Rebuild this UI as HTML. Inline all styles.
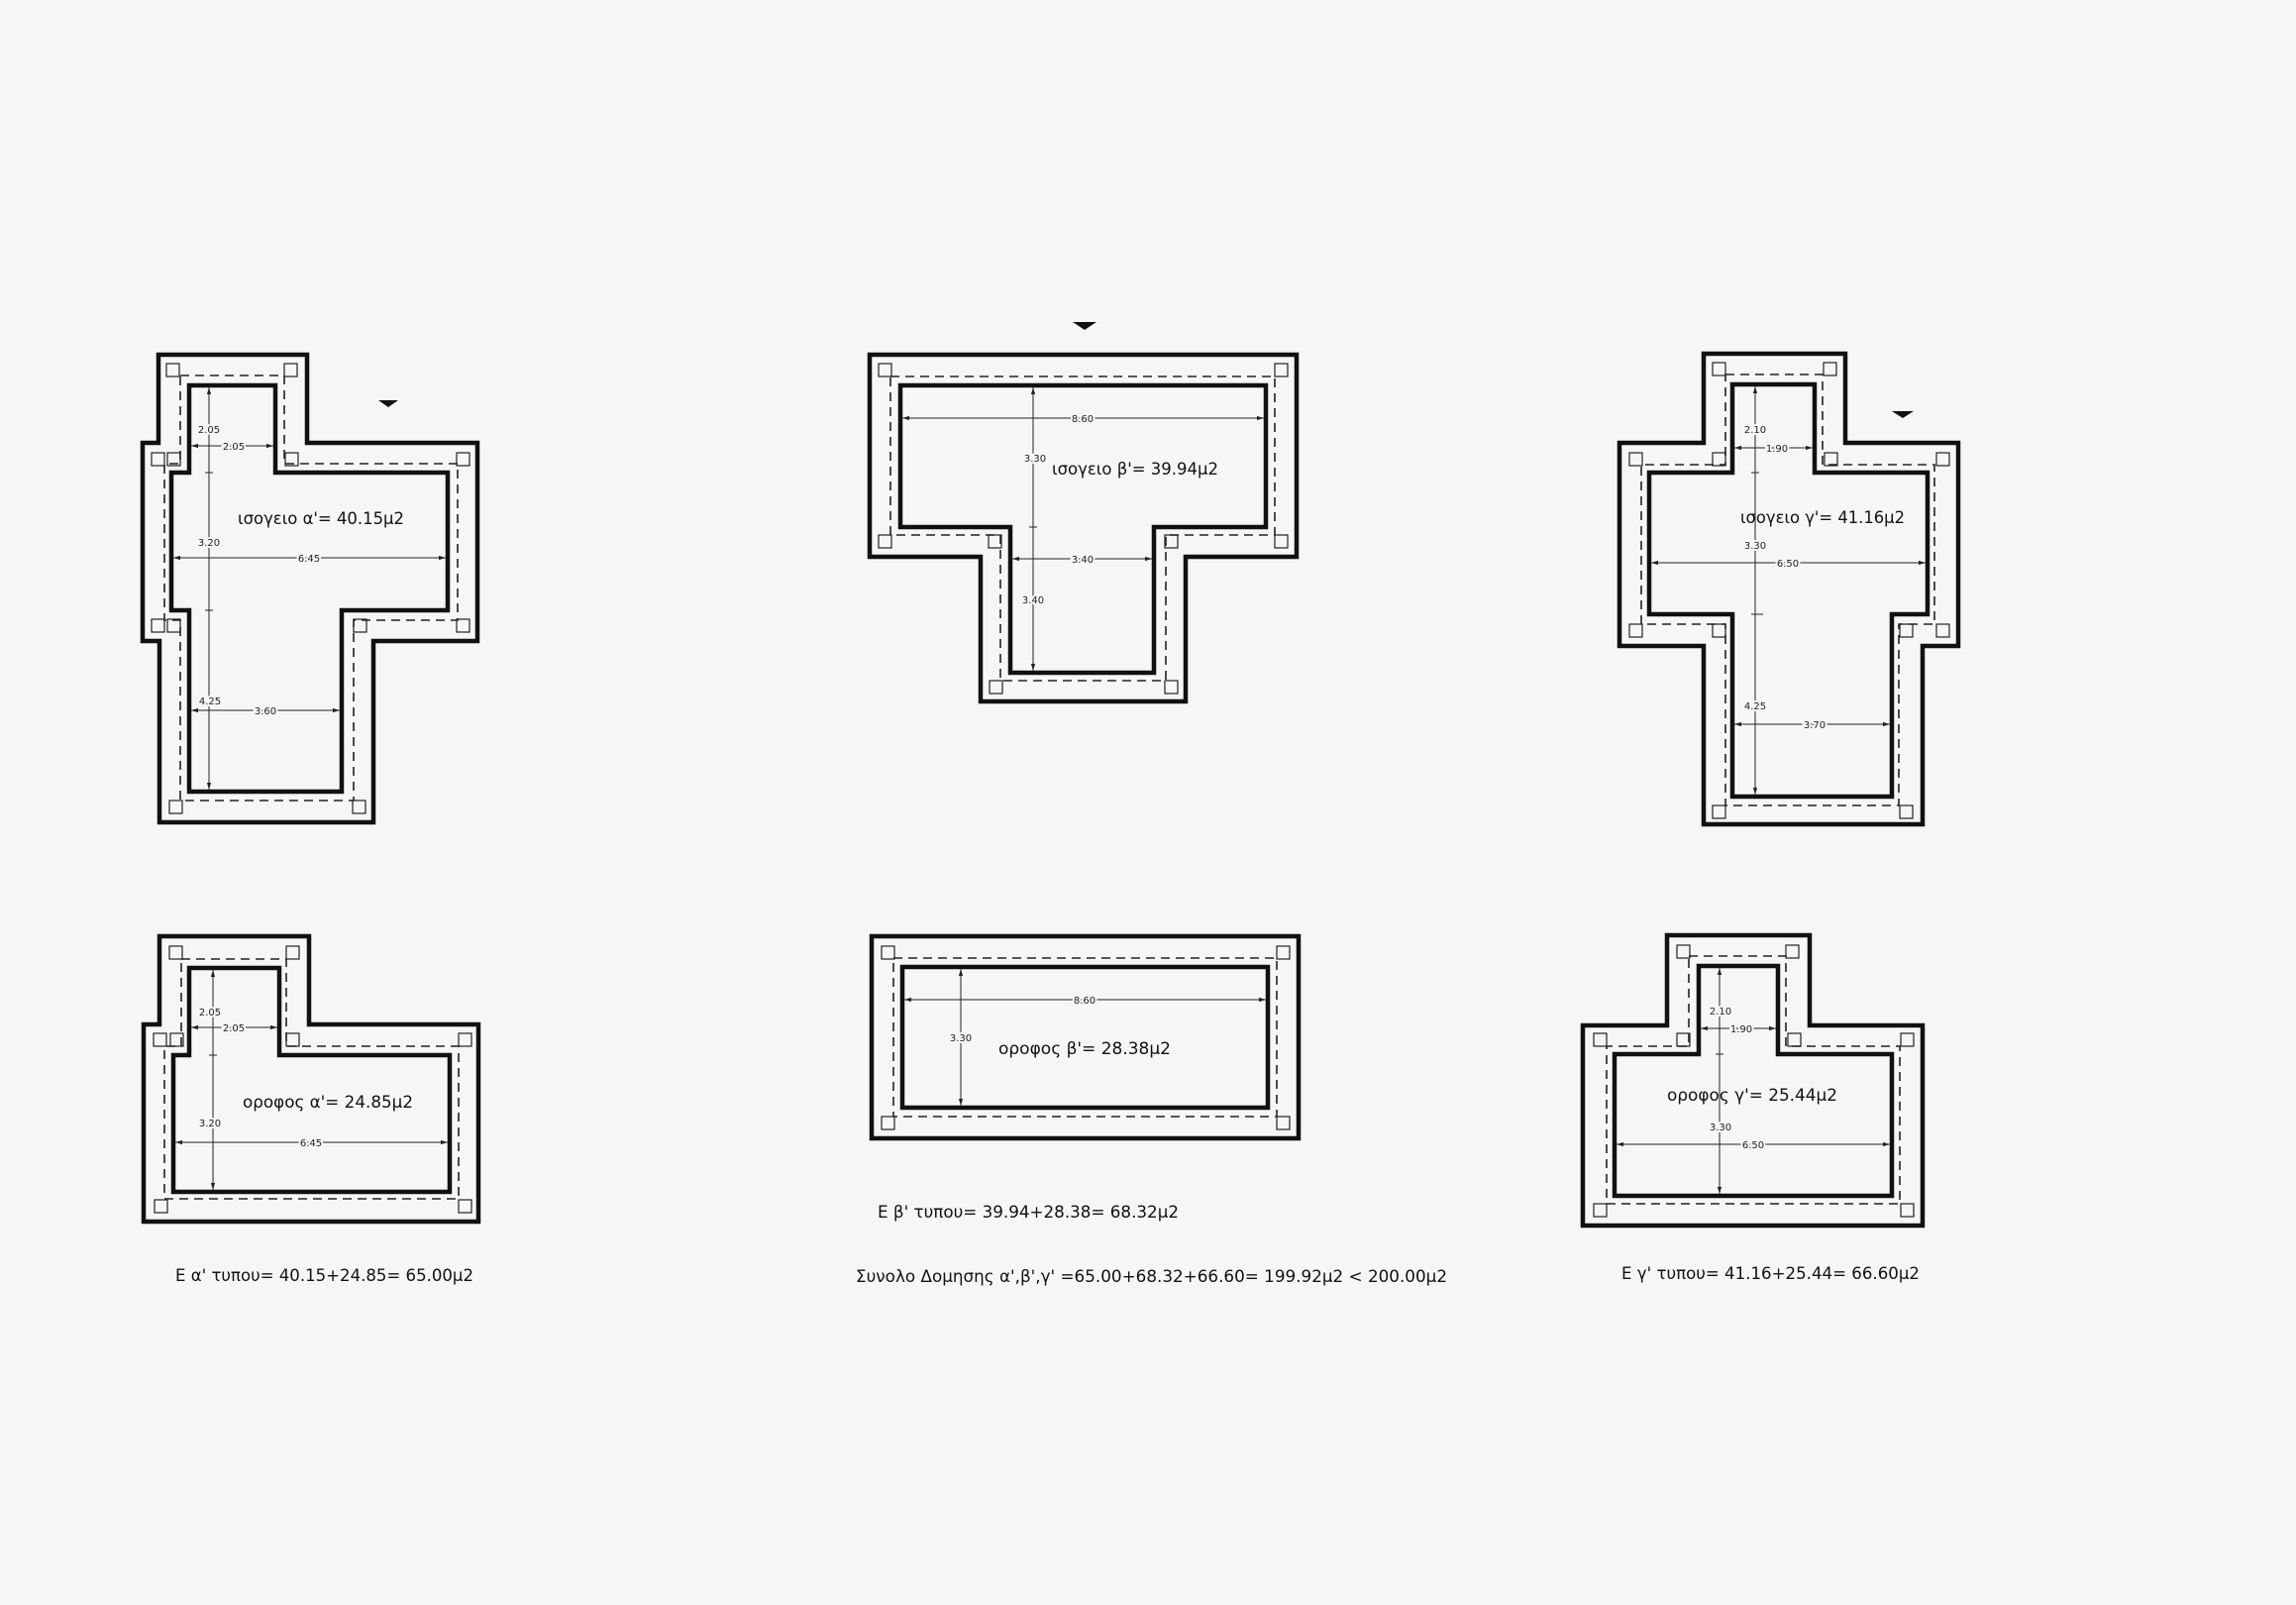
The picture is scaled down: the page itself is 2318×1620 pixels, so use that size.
<!DOCTYPE html>
<html><head><meta charset="utf-8"><style>
html,body{margin:0;padding:0;background:#f6f6f6;}
svg{display:block;}
.w{fill:none;stroke:#111;stroke-width:4.5;stroke-linejoin:miter;}
.d{fill:none;stroke:#222;stroke-width:1.6;stroke-dasharray:9 6;}
.c{fill:none;stroke:#222;stroke-width:1.2;}
.dim{stroke:#222;stroke-width:1;fill:none;}
.s{font-family:"DejaVu Sans","Liberation Sans",sans-serif;font-size:10px;fill:#222;stroke:#f6f6f6;stroke-width:4;paint-order:stroke;text-anchor:middle;}
.t{font-family:"DejaVu Sans","Liberation Sans",sans-serif;font-size:17px;fill:#111;}
</style></head><body>
<svg width="2318" height="1620" viewBox="0 0 2318 1620" xmlns="http://www.w3.org/2000/svg">
<defs>
<marker id="a" viewBox="0 0 10 10" refX="10" refY="5" markerWidth="7" markerHeight="7" orient="auto-start-reverse"><path d="M0,2 L10,5 L0,8 z" fill="#222"/></marker>
</defs>

<!-- Plan A ground -->
<polygon class="w" points="160,358 310,358 310,447 482,447 482,647 377,647 377,830 161,830 161,647 144,647 144,447 160,447"/>
<polygon class="w" points="191,389 278,389 278,477 452,477 452,616 345,616 345,799 191,799 191,616 173,616 173,477 191,477"/>
<polygon class="d" points="182,379 287,379 287,468 462,468 462,626 357,626 357,808 182,808 182,626 166,626 166,468 182,468"/>
<g class="c">
<rect x="168" y="367" width="13" height="13"/><rect x="287" y="367" width="13" height="13"/>
<rect x="153" y="457" width="13" height="13"/><rect x="169" y="457" width="13" height="13"/>
<rect x="288" y="457" width="13" height="13"/><rect x="461" y="457" width="13" height="13"/>
<rect x="153" y="625" width="13" height="13"/><rect x="169" y="625" width="13" height="13"/>
<rect x="357" y="625" width="13" height="13"/><rect x="461" y="625" width="13" height="13"/>
<rect x="171" y="808" width="13" height="13"/><rect x="356" y="808" width="13" height="13"/>
</g>
<polygon points="382,404 402,404 392,411" fill="#111"/>
<g class="dim">
<line x1="211" y1="391" x2="211" y2="797" marker-start="url(#a)" marker-end="url(#a)"/>
<line x1="193" y1="450" x2="276" y2="450" marker-start="url(#a)" marker-end="url(#a)"/>
<line x1="175" y1="563" x2="450" y2="563" marker-start="url(#a)" marker-end="url(#a)"/>
<line x1="193" y1="717" x2="343" y2="717" marker-start="url(#a)" marker-end="url(#a)"/>
<line x1="207" y1="477" x2="215" y2="477"/><line x1="207" y1="616" x2="215" y2="616"/>
</g>
<text class="s" x="211" y="437">2.05</text><text class="s" x="236" y="454">2.05</text>
<text class="s" x="211" y="551">3.20</text><text class="s" x="312" y="567">6.45</text>
<text class="s" x="212" y="711">4.25</text><text class="s" x="268" y="721">3.60</text>
<text class="t" x="240" y="529" textLength="168" lengthAdjust="spacingAndGlyphs">ισογειο α'= 40.15μ2</text>

<!-- Plan B ground -->
<polygon class="w" points="878,358 1309,358 1309,562 1197,562 1197,708 990,708 990,562 878,562"/>
<polygon class="w" points="909,389 1278,389 1278,532 1165,532 1165,679 1020,679 1020,532 909,532"/>
<polygon class="d" points="899,380 1287,380 1287,540 1177,540 1177,687 1010,687 1010,540 899,540"/>
<g class="c">
<rect x="887" y="367" width="13" height="13"/><rect x="1287" y="367" width="13" height="13"/>
<rect x="887" y="540" width="13" height="13"/><rect x="998" y="540" width="13" height="13"/>
<rect x="1176" y="540" width="13" height="13"/><rect x="1287" y="540" width="13" height="13"/>
<rect x="999" y="687" width="13" height="13"/><rect x="1176" y="687" width="13" height="13"/>
</g>
<polygon points="1083,325 1107,325 1095,333" fill="#111"/>
<g class="dim">
<line x1="1043" y1="391" x2="1043" y2="677" marker-start="url(#a)" marker-end="url(#a)"/>
<line x1="911" y1="422" x2="1276" y2="422" marker-start="url(#a)" marker-end="url(#a)"/>
<line x1="1022" y1="564" x2="1163" y2="564" marker-start="url(#a)" marker-end="url(#a)"/>
<line x1="1039" y1="532" x2="1047" y2="532"/>
</g>
<text class="s" x="1093" y="426">8.60</text>
<text class="s" x="1045" y="466">3.30</text>
<text class="s" x="1093" y="568">3.40</text>
<text class="s" x="1043" y="609">3.40</text>
<text class="t" x="1062" y="479" textLength="168" lengthAdjust="spacingAndGlyphs">ισογειο β'= 39.94μ2</text>

<!-- Plan C ground -->
<polygon class="w" points="1720,357 1863,357 1863,447 1977,447 1977,652 1941,652 1941,832 1720,832 1720,652 1635,652 1635,447 1720,447"/>
<polygon class="w" points="1749,388 1832,388 1832,477 1946,477 1946,620 1910,620 1910,804 1749,804 1749,620 1665,620 1665,477 1749,477"/>
<polygon class="d" points="1742,378 1840,378 1840,469 1953,469 1953,630 1917,630 1917,813 1742,813 1742,630 1657,630 1657,469 1742,469"/>
<g class="c">
<rect x="1729" y="366" width="13" height="13"/><rect x="1841" y="366" width="13" height="13"/>
<rect x="1645" y="457" width="13" height="13"/><rect x="1729" y="457" width="13" height="13"/>
<rect x="1842" y="457" width="13" height="13"/><rect x="1955" y="457" width="13" height="13"/>
<rect x="1645" y="630" width="13" height="13"/><rect x="1729" y="630" width="13" height="13"/>
<rect x="1918" y="630" width="13" height="13"/><rect x="1955" y="630" width="13" height="13"/>
<rect x="1729" y="813" width="13" height="13"/><rect x="1918" y="813" width="13" height="13"/>
</g>
<polygon points="1910,415 1932,415 1921,422" fill="#111"/>
<g class="dim">
<line x1="1772" y1="390" x2="1772" y2="802" marker-start="url(#a)" marker-end="url(#a)"/>
<line x1="1751" y1="452" x2="1830" y2="452" marker-start="url(#a)" marker-end="url(#a)"/>
<line x1="1667" y1="568" x2="1944" y2="568" marker-start="url(#a)" marker-end="url(#a)"/>
<line x1="1751" y1="731" x2="1908" y2="731" marker-start="url(#a)" marker-end="url(#a)"/>
<line x1="1768" y1="477" x2="1776" y2="477"/><line x1="1768" y1="620" x2="1780" y2="620"/>
</g>
<text class="s" x="1772" y="437">2.10</text><text class="s" x="1794" y="456">1.90</text>
<text class="s" x="1772" y="554">3.30</text><text class="s" x="1805" y="572">6.50</text>
<text class="s" x="1772" y="716">4.25</text><text class="s" x="1832" y="735">3.70</text>
<text class="t" x="1757" y="528" textLength="166" lengthAdjust="spacingAndGlyphs">ισογειο γ'= 41.16μ2</text>

<!-- Plan A upper -->
<polygon class="w" points="161,945 312,945 312,1034 483,1034 483,1233 145,1233 145,1034 161,1034"/>
<polygon class="w" points="191,977 282,977 282,1065 454,1065 454,1203 175,1203 175,1065 191,1065"/>
<polygon class="d" points="183,968 289,968 289,1056 463,1056 463,1210 166,1210 166,1056 183,1056"/>
<g class="c">
<rect x="171" y="955" width="13" height="13"/><rect x="289" y="955" width="13" height="13"/>
<rect x="155" y="1043" width="13" height="13"/><rect x="172" y="1043" width="13" height="13"/>
<rect x="289" y="1043" width="13" height="13"/><rect x="463" y="1043" width="13" height="13"/>
<rect x="156" y="1211" width="13" height="13"/><rect x="463" y="1211" width="13" height="13"/>
</g>
<g class="dim">
<line x1="215" y1="979" x2="215" y2="1201" marker-start="url(#a)" marker-end="url(#a)"/>
<line x1="193" y1="1037" x2="280" y2="1037" marker-start="url(#a)" marker-end="url(#a)"/>
<line x1="177" y1="1153" x2="452" y2="1153" marker-start="url(#a)" marker-end="url(#a)"/>
<line x1="211" y1="1065" x2="219" y2="1065"/>
</g>
<text class="s" x="212" y="1025">2.05</text><text class="s" x="236" y="1041">2.05</text>
<text class="s" x="212" y="1137">3.20</text><text class="s" x="314" y="1157">6.45</text>
<text class="t" x="245" y="1118" textLength="172" lengthAdjust="spacingAndGlyphs">οροφος α'= 24.85μ2</text>
<text class="t" x="177" y="1293" textLength="301" lengthAdjust="spacingAndGlyphs">Ε α' τυπου= 40.15+24.85= 65.00μ2</text>

<!-- Plan B upper -->
<rect class="w" x="880" y="945" width="431" height="204"/>
<rect class="w" x="911" y="976" width="369" height="142"/>
<rect class="d" x="902" y="967" width="387" height="160"/>
<g class="c">
<rect x="890" y="955" width="13" height="13"/><rect x="1289" y="955" width="13" height="13"/>
<rect x="890" y="1127" width="13" height="13"/><rect x="1289" y="1127" width="13" height="13"/>
</g>
<g class="dim">
<line x1="970" y1="978" x2="970" y2="1116" marker-start="url(#a)" marker-end="url(#a)"/>
<line x1="913" y1="1009" x2="1278" y2="1009" marker-start="url(#a)" marker-end="url(#a)"/>
</g>
<text class="s" x="1095" y="1013">8.60</text>
<text class="s" x="970" y="1051">3.30</text>
<text class="t" x="1008" y="1064" textLength="174" lengthAdjust="spacingAndGlyphs">οροφος β'= 28.38μ2</text>
<text class="t" x="886" y="1229" textLength="304" lengthAdjust="spacingAndGlyphs">Ε β' τυπου= 39.94+28.38= 68.32μ2</text>
<text class="t" x="864" y="1294" textLength="597" lengthAdjust="spacingAndGlyphs">Συνολο Δομησης α',β',γ' =65.00+68.32+66.60= 199.92μ2 &lt; 200.00μ2</text>

<!-- Plan C upper -->
<polygon class="w" points="1683,944 1827,944 1827,1035 1941,1035 1941,1237 1598,1237 1598,1035 1683,1035"/>
<polygon class="w" points="1715,975 1795,975 1795,1064 1910,1064 1910,1207 1630,1207 1630,1064 1715,1064"/>
<polygon class="d" points="1705,965 1803,965 1803,1056 1918,1056 1918,1215 1622,1215 1622,1056 1705,1056"/>
<g class="c">
<rect x="1693" y="954" width="13" height="13"/><rect x="1803" y="954" width="13" height="13"/>
<rect x="1609" y="1043" width="13" height="13"/><rect x="1693" y="1043" width="13" height="13"/>
<rect x="1805" y="1043" width="13" height="13"/><rect x="1919" y="1043" width="13" height="13"/>
<rect x="1609" y="1215" width="13" height="13"/><rect x="1919" y="1215" width="13" height="13"/>
</g>
<g class="dim">
<line x1="1736" y1="977" x2="1736" y2="1205" marker-start="url(#a)" marker-end="url(#a)"/>
<line x1="1717" y1="1038" x2="1793" y2="1038" marker-start="url(#a)" marker-end="url(#a)"/>
<line x1="1632" y1="1155" x2="1908" y2="1155" marker-start="url(#a)" marker-end="url(#a)"/>
<line x1="1732" y1="1064" x2="1740" y2="1064"/>
</g>
<text class="s" x="1737" y="1024">2.10</text><text class="s" x="1758" y="1042">1.90</text>
<text class="s" x="1737" y="1141">3.30</text><text class="s" x="1770" y="1159">6.50</text>
<text class="t" x="1683" y="1111" textLength="172" lengthAdjust="spacingAndGlyphs">οροφος γ'= 25.44μ2</text>
<text class="t" x="1637" y="1291" textLength="301" lengthAdjust="spacingAndGlyphs">Ε γ' τυπου= 41.16+25.44= 66.60μ2</text>
</svg>
</body></html>
